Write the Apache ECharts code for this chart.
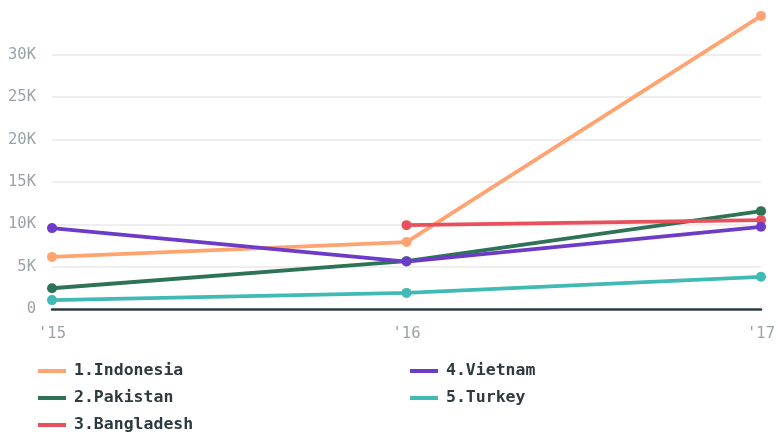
<!DOCTYPE html>
<html><head><meta charset="utf-8">
<script src="https://cdn.jsdelivr.net/npm/echarts@6/dist/echarts.min.js"></script>
<style>html,body{margin:0;padding:0;background:#fff}#c{width:778px;height:435px}</style>
</head><body><div id="c"></div>
<script>
const categories = ["'15", "'16", "'17"];
const yTicks = [0, 5000, 10000, 15000, 20000, 25000, 30000, 35000];
const indonesia = [6150, 7900, 34600];
const pakistan = [2450, 5650, 11550];
const bangladesh = [null, 9900, 10500];
const vietnam = [9550, 5600, 9700];
const turkey = [1050, 1900, 3800];
const seriesNames = ['1.Indonesia', '2.Pakistan', '3.Bangladesh', '4.Vietnam', '5.Turkey'];
const colors = ['#ffa370', '#2e7355', '#e8505b', '#6c3cc8', '#40bab5'];
const values = [indonesia, pakistan, bangladesh, vietnam, turkey];

const chart = echarts.init(document.getElementById('c'));
const font = 'DejaVu Sans Mono';
const legendText = {fontFamily: font, fontWeight: 'bold', fontSize: 16.5, lineHeight: 17, color: '#2d3a40', padding: [0, 0, 0, 3]};
chart.setOption({
  animation: false,
  color: colors,
  grid: {left: 52, right: 13, top: 12.5, bottom: 126},
  xAxis: {
    type: 'category', data: categories, boundaryGap: false,
    axisLine: {lineStyle: {color: '#2d3c44', width: 2.5}},
    axisTick: {show: false},
    axisLabel: {color: '#9aa3a8', fontFamily: font, fontSize: 15.5, margin: 17}
  },
  yAxis: {
    type: 'value', min: yTicks[0], max: yTicks[yTicks.length - 1], interval: 5000,
    axisLine: {show: false}, axisTick: {show: false},
    splitLine: {lineStyle: {color: '#e8e8e8', width: 1.5}, showMaxLine: false},
    axisLabel: {
      color: '#9aa3a8', fontFamily: font, fontSize: 15.5, margin: 16, showMaxLabel: false,
      formatter: v => v === 0 ? '0' : (v / 1000) + 'K'
    }
  },
  legend: [
    {data: seriesNames.slice(0, 3), orient: 'vertical', left: 38, top: 362.5, itemGap: 10, height: 72, padding: 0,
     itemWidth: 28, itemHeight: 4, icon: 'rect', textStyle: legendText},
    {data: seriesNames.slice(3), orient: 'vertical', left: 410, top: 362.5, itemGap: 10, height: 72, padding: 0,
     itemWidth: 28, itemHeight: 4, icon: 'rect', textStyle: legendText}
  ],
  series: seriesNames.map((n, i) => ({
    name: n, type: 'line', data: values[i],
    symbol: 'circle', symbolSize: 10,
    lineStyle: {width: 3.8, color: colors[i]},
    itemStyle: {color: colors[i]},
    connectNulls: false
  }))
});
</script></body></html>
